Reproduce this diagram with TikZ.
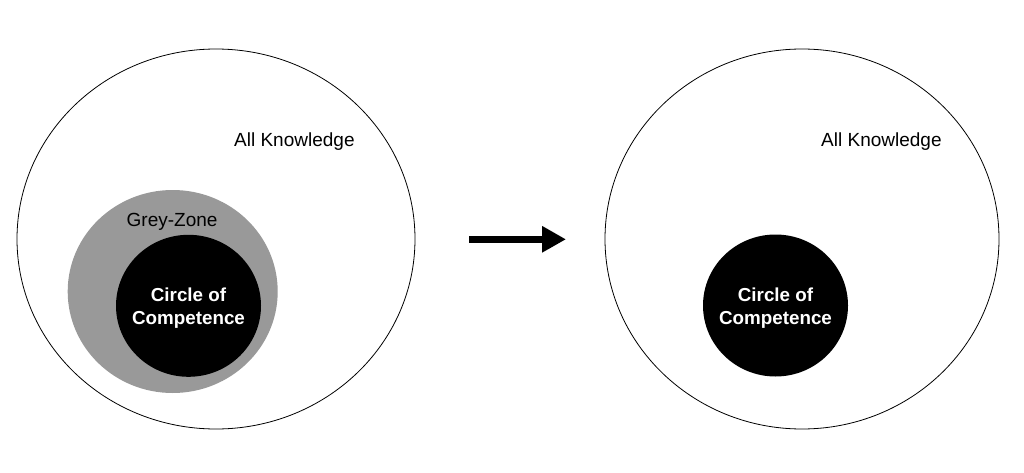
\documentclass[tikz,border=0pt]{standalone}
\usepackage{fontspec}
\setmainfont{Liberation Sans}
\usetikzlibrary{shapes.geometric,arrows.meta}
\definecolor{greyzone}{RGB}{153,153,153}
\begin{document}
\begin{tikzpicture}[x=1pt,y=-1pt,
  outer/.style={ellipse,draw=black,line width=0.8pt,inner sep=0pt},
  grey/.style={ellipse,fill=greyzone,inner sep=0pt},
  core/.style={ellipse,fill=black,inner sep=0pt,minimum width=145pt,minimum height=142pt},
  lbl/.style={font=\fontsize{19}{22}\selectfont,inner sep=0pt},
  corelbl/.style={font=\bfseries\fontsize{18.8}{23}\selectfont,text=white,align=center,inner sep=0pt}]
\useasboundingbox (0,0) rectangle (1024,473);
\fill[white] (0,0) rectangle (1024,473);
% left
\node[outer,minimum width=398pt,minimum height=380pt] (L) at (216,239) {};
\node[grey,minimum width=210pt,minimum height=203pt] (G) at (172.7,291.5) {};
\node[core] (LC) at (188.5,305.8) {};
\node[corelbl] (LCt) at (188.5,308.5) {Circle of\\Competence};
\node[lbl,anchor=west] (LK) at (234,142) {All Knowledge};
\node[lbl,anchor=west] (GZ) at (126.5,222) {Grey-Zone};
% right
\node[outer,minimum width=394pt,minimum height=380pt] (R) at (802,239) {};
\node[core] (RC) at (775.5,305.5) {};
\node[corelbl] (RCt) at (775.5,308.2) {Circle of\\Competence};
\node[lbl,anchor=west] (RK) at (821,142) {All Knowledge};
% arrow
\coordinate (A1) at (469,239.3);
\coordinate (A2) at (566,239.3);
\draw[line width=6.7pt,-{Triangle[length=24pt,width=25pt]}] (A1) -- (A2);
\end{tikzpicture}
\end{document}
